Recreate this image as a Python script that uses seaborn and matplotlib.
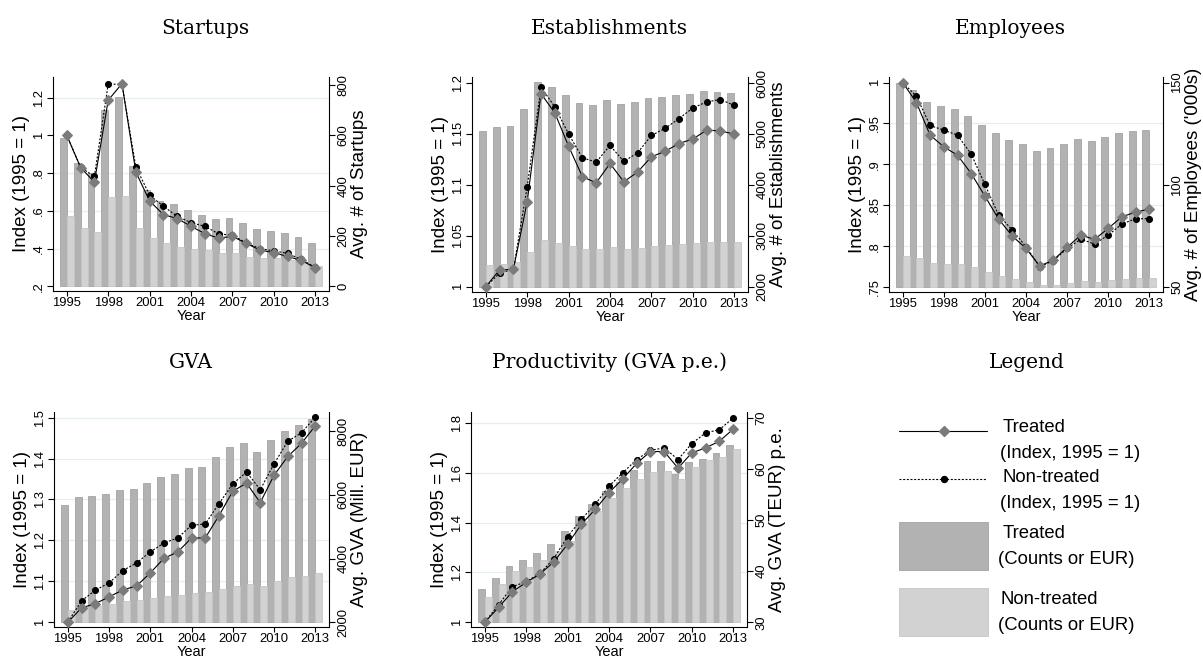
import matplotlib
matplotlib.use("Agg")
import matplotlib.pyplot as plt
import seaborn as sns
import pandas as pd
from matplotlib.ticker import FixedLocator
from matplotlib.patches import Rectangle

# ---------------------------------------------------------------- data
years = list(range(1995, 2014))

# Startups
st_tr_idx = [1.00, 0.829, 0.752, 1.186, 1.274, 0.806, 0.652, 0.580, 0.559, 0.518,
             0.479, 0.455, 0.465, 0.427, 0.392, 0.378, 0.358, 0.337, 0.298]
st_nt_idx = [1.00, 0.830, 0.782, 1.272, 1.270, 0.833, 0.683, 0.624, 0.571, 0.537,
             0.518, 0.478, 0.470, 0.430, 0.399, 0.388, 0.374, 0.342, 0.300]
st_tr_bar = [589, 490, 450, 701, 751, 477, 384, 338, 327, 302,
             283, 268, 272, 252, 228, 220, 213, 197, 174]
st_nt_bar = [279, 230, 216, 354, 358, 230, 190, 173, 158, 150,
             143, 133, 131, 117, 111, 111, 104, 95, 82]

# Establishments
es_tr_idx = [1.000, 1.0166, 1.017, 1.0835, 1.1896, 1.1706, 1.138, 1.108, 1.102, 1.121,
             1.103, 1.1126, 1.1276, 1.133, 1.1406, 1.145, 1.1537, 1.153, 1.1498]
es_nt_idx = [1.000, 1.0134, 1.017, 1.098, 1.196, 1.1765, 1.150, 1.1266, 1.1223, 1.1387,
             1.123, 1.1315, 1.1485, 1.1556, 1.165, 1.1755, 1.1814, 1.1838, 1.178]
es_tr_bar = [5060, 5139, 5152, 5485, 6020, 5922, 5758, 5608, 5576, 5661,
             5582, 5628, 5700, 5726, 5765, 5791, 5837, 5824, 5812]
es_nt_bar = [2431, 2450, 2476, 2679, 2920, 2861, 2803, 2744, 2737, 2776,
             2744, 2763, 2803, 2816, 2842, 2868, 2887, 2880, 2870]

# Employees ('000s)
em_tr_idx = [1.000, 0.9756, 0.9357, 0.9214, 0.9112, 0.8888, 0.8612, 0.8331, 0.8123, 0.7972,
             0.7757, 0.7830, 0.7985, 0.8135, 0.8082, 0.8217, 0.8359, 0.8416, 0.8453]
em_nt_idx = [1.000, 0.9833, 0.9475, 0.9418, 0.9357, 0.9125, 0.8754, 0.8379, 0.8196, 0.7993,
             0.7748, 0.7822, 0.7972, 0.8086, 0.8025, 0.8135, 0.8270, 0.8335, 0.8335]
em_tr_bar = [150.0, 146.3, 140.6, 138.4, 137.0, 133.6, 129.3, 125.1, 122.0, 119.9,
             116.6, 117.9, 119.9, 122.3, 121.3, 123.3, 125.4, 126.4, 127.0]
em_nt_bar = [65.1, 64.0, 61.9, 61.4, 61.1, 59.6, 57.3, 55.4, 53.7, 52.6,
             51.0, 51.1, 51.8, 52.9, 52.4, 53.4, 53.9, 54.4, 54.6]

# GVA (Mill. EUR)
gv_tr_idx = [1.000, 1.035, 1.0456, 1.0619, 1.079, 1.0888, 1.1205, 1.1564, 1.1718, 1.206,
             1.206, 1.2606, 1.320, 1.340, 1.2924, 1.359, 1.405, 1.437, 1.480]
gv_nt_idx = [1.000, 1.0521, 1.0782, 1.0961, 1.1262, 1.145, 1.1718, 1.1938, 1.206, 1.237,
             1.2402, 1.2899, 1.338, 1.367, 1.324, 1.387, 1.442, 1.463, 1.501]
gv_tr_bar = [5690, 5919, 5950, 6023, 6148, 6190, 6368, 6576, 6659, 6837,
             6868, 7180, 7494, 7618, 7347, 7713, 7993, 8181, 8380]
gv_nt_bar = [2375, 2480, 2521, 2584, 2657, 2709, 2772, 2813, 2845, 2918,
             2938, 3032, 3147, 3209, 3126, 3283, 3407, 3459, 3542]

# Productivity (TEUR per employee)
pr_tr_idx = [1.000, 1.060, 1.1227, 1.160, 1.1933, 1.2427, 1.3133, 1.3933, 1.4533, 1.520,
             1.576, 1.6373, 1.6853, 1.6853, 1.6187, 1.680, 1.700, 1.7267, 1.7753]
pr_nt_idx = [1.000, 1.0707, 1.1427, 1.163, 1.196, 1.2555, 1.344, 1.4133, 1.4733, 1.5467,
             1.600, 1.6533, 1.690, 1.700, 1.6533, 1.7173, 1.760, 1.7733, 1.820]
pr_tr_bar = [36.5, 38.65, 40.99, 42.23, 43.59, 45.35, 47.89, 50.88, 53.09, 55.69,
             57.45, 59.79, 61.54, 61.54, 59.14, 61.35, 62.07, 63.11, 64.8]
pr_nt_bar = [35.0, 37.48, 40.08, 40.80, 42.23, 44.0, 46.0, 49.8, 51.8, 54.3,
             56.3, 58.1, 59.4, 59.7, 58.1, 60.4, 61.7, 62.3, 64.0]

# ---------------------------------------------------------------- style
sns.set_theme(style="white")
plt.rcParams["font.family"] = ["Liberation Sans", "DejaVu Sans"]
TITLE_FONT = ["DejaVu Serif"]

DARK, DARK_EDGE = "#b2b2b2", "#a4a4a4"
LIGHT, LIGHT_EDGE = "#d2d2d2", "#c6c6c6"
DIAMOND = "#7b7b7b"
GRID = "#e6eeee"

W, H = 1203, 659
fig = plt.figure(figsize=(W / 100, H / 100), dpi=100)
fig.patch.set_facecolor("white")


def px_axes(x0, y0, x1, y1):
    return fig.add_axes([x0 / W, 1 - y1 / H, (x1 - x0) / W, (y1 - y0) / H])


def fmt(v):
    s = f"{v:g}"
    if s.startswith("0."):
        s = s[1:]
    return s


panels = [
    dict(title="Startups", box=(53, 77, 329, 291), tpos=(205, 34),
         ylim=(0.175, 1.309), yticks=[0.2, 0.4, 0.6, 0.8, 1.0, 1.2],
         ref=0.2, base=0, scale=750, rticks=[0, 200, 400, 600, 800],
         rlabel="Avg. # of Startups",
         tr=st_tr_idx, nt=st_nt_idx, trb=st_tr_bar, ntb=st_nt_bar),
    dict(title="Establishments", box=(472, 77, 748, 292), tpos=(609, 34),
         ylim=(0.9948, 1.2059), yticks=[1.0, 1.05, 1.1, 1.15, 1.2],
         ref=1.0, base=2000, scale=20000, rticks=[2000, 3000, 4000, 5000, 6000],
         rlabel="Avg. # of Establishments",
         tr=es_tr_idx, nt=es_nt_idx, trb=es_tr_bar, ntb=es_nt_bar),
    dict(title="Employees", box=(889, 77, 1163, 292), tpos=(1010, 34),
         ylim=(0.7439, 1.0068), yticks=[0.75, 0.8, 0.85, 0.9, 0.95, 1.0],
         ref=0.75, base=50, scale=400, rticks=[50, 100, 150],
         rlabel="Avg. # of Employees ('000s)",
         tr=em_tr_idx, nt=em_nt_idx, trb=em_tr_bar, ntb=em_nt_bar),
    dict(title="GVA", box=(54, 412, 329, 627), tpos=(191, 368),
         ylim=(0.9885, 1.5137), yticks=[1.0, 1.1, 1.2, 1.3, 1.4, 1.5],
         ref=1.0, base=2000, scale=12850, rticks=[2000, 4000, 6000, 8000],
         rlabel="Avg. GVA (Mill. EUR)",
         tr=gv_tr_idx, nt=gv_nt_idx, trb=gv_tr_bar, ntb=gv_nt_bar),
    dict(title="Productivity (GVA p.e.)", box=(471, 412, 747, 627), tpos=(609, 368),
         ylim=(0.981, 1.844), yticks=[1.0, 1.2, 1.4, 1.6, 1.8],
         ref=1.0, base=30, scale=48.8, rticks=[30, 40, 50, 60, 70],
         rlabel="Avg. GVA (TEUR) p.e.",
         tr=pr_tr_idx, nt=pr_nt_idx, trb=pr_tr_bar, ntb=pr_nt_bar),
]

TICK_FS = 9.4
LABEL_FS = 13.5
for p in panels:
    ax = px_axes(*p["box"])
    ax2 = ax.twinx()
    ax.set_zorder(3)
    ax2.set_zorder(2)
    ax.patch.set_visible(False)

    df = pd.DataFrame({"year": years, "tr": p["tr"], "nt": p["nt"],
                       "trb": p["trb"], "ntb": p["ntb"]})

    # bars (right axis): treated to the left of each year, non-treated to the right
    ax2.bar(df["year"] - 0.25, df["trb"] - p["base"], bottom=p["base"], width=0.5,
            color=DARK, edgecolor=DARK_EDGE, linewidth=0.6, zorder=2)
    ax2.bar(df["year"] + 0.25, df["ntb"] - p["base"], bottom=p["base"], width=0.5,
            color=LIGHT, edgecolor=LIGHT_EDGE, linewidth=0.6, zorder=2)

    # index lines (left axis)
    sns.lineplot(data=df, x="year", y="nt", ax=ax, color="black", lw=0.8,
                 linestyle=(0, (1.8, 1.5)), marker="o", markersize=4.3,
                 markerfacecolor="black", markeredgecolor="black", zorder=4)
    sns.lineplot(data=df, x="year", y="tr", ax=ax, color="black", lw=0.8,
                 marker="D", markersize=4.6, markerfacecolor=DIAMOND,
                 markeredgecolor=DIAMOND, zorder=5)

    ax.set_xlim(1994.0, 2014.0)
    ax.set_ylim(*p["ylim"])
    lo = p["base"] + (p["ylim"][0] - p["ref"]) * p["scale"]
    hi = p["base"] + (p["ylim"][1] - p["ref"]) * p["scale"]
    ax2.set_ylim(lo, hi)

    # faint horizontal grid at the index ticks, kept behind the bars
    grid_r = [p["base"] + (t - p["ref"]) * p["scale"] for t in p["yticks"]]
    ax2.yaxis.set_minor_locator(FixedLocator(grid_r))
    ax2.grid(which="minor", axis="y", color=GRID, lw=0.9)
    ax2.grid(which="major", visible=False)
    ax2.set_axisbelow(True)
    ax2.tick_params(which="minor", length=0)
    ax.grid(False)

    ax.set_xticks(list(range(1995, 2014, 3)))
    ax.set_yticks(p["yticks"])
    ax.set_yticklabels([fmt(t) for t in p["yticks"]], rotation=90, va="center")
    ax2.set_yticks(p["rticks"])
    ax2.set_yticklabels([str(t) for t in p["rticks"]], rotation=90, va="center")

    for a in (ax, ax2):
        a.tick_params(axis="both", which="major", direction="out", length=4,
                      width=0.8, color="black", labelsize=TICK_FS, pad=2,
                      labelcolor="black")
        for s in a.spines.values():
            s.set_visible(False)
    ax.tick_params(axis="x", pad=1, length=3.5)
    ax.spines["left"].set_visible(True)
    ax.spines["bottom"].set_visible(True)
    ax2.spines["right"].set_visible(True)
    for s in (ax.spines["left"], ax.spines["bottom"], ax2.spines["right"]):
        s.set_color("black")
        s.set_linewidth(0.8)
    ax.tick_params(axis="y", left=True, right=False)
    ax.tick_params(axis="x", bottom=True)
    ax2.tick_params(axis="y", right=True, left=False)

    ax.set_xlabel("Year", fontsize=10.5, labelpad=-0.5, color="black")
    ax.set_ylabel("Index (1995 = 1)", fontsize=LABEL_FS, labelpad=2, color="black")
    ax2.set_ylabel(p["rlabel"], fontsize=LABEL_FS, labelpad=1, color="black")

    fig.text(p["tpos"][0] / W, 1 - p["tpos"][1] / H, p["title"], family=TITLE_FONT,
             fontsize=14.5, ha="center", va="baseline", color="black")

# ---------------------------------------------------------------- legend panel
lg = fig.add_axes([0, 0, 1, 1])
lg.set_xlim(0, W)
lg.set_ylim(H, 0)
lg.axis("off")
lg.set_zorder(10)
lg.patch.set_visible(False)

fig.text(1027 / W, 1 - 368 / H, "Legend", family=TITLE_FONT, fontsize=14.5,
         ha="center", va="baseline", color="black")

LEG_FS = 13.3
lg.plot([899, 987], [431, 431], color="black", lw=0.8)
lg.plot([944], [431], marker="D", markersize=4.6, color=DIAMOND)
lg.plot([899, 987], [479, 479], color="black", lw=0.8, linestyle=(0, (1.8, 1.5)))
lg.plot([944], [479], marker="o", markersize=4.3, color="black")
lg.add_patch(Rectangle((899, 522), 89, 48, facecolor=DARK, edgecolor=DARK_EDGE, lw=0.6))
lg.add_patch(Rectangle((899, 588), 89, 48, facecolor=LIGHT, edgecolor=LIGHT_EDGE, lw=0.6))

legend_text = [
    (1003, 428, "Treated"), (1000, 454, "(Index, 1995 = 1)"),
    (1002, 477, "Non-treated"), (1000, 503, "(Index, 1995 = 1)"),
    (1003, 533, "Treated"), (998, 559, "(Counts or EUR)"),
    (1001, 599, "Non-treated"), (998, 626, "(Counts or EUR)"),
]
for x, y, s in legend_text:
    lg.text(x, y, s, fontsize=LEG_FS, ha="left", va="center", color="black")

fig.savefig("out.png", dpi=100, facecolor="white")
